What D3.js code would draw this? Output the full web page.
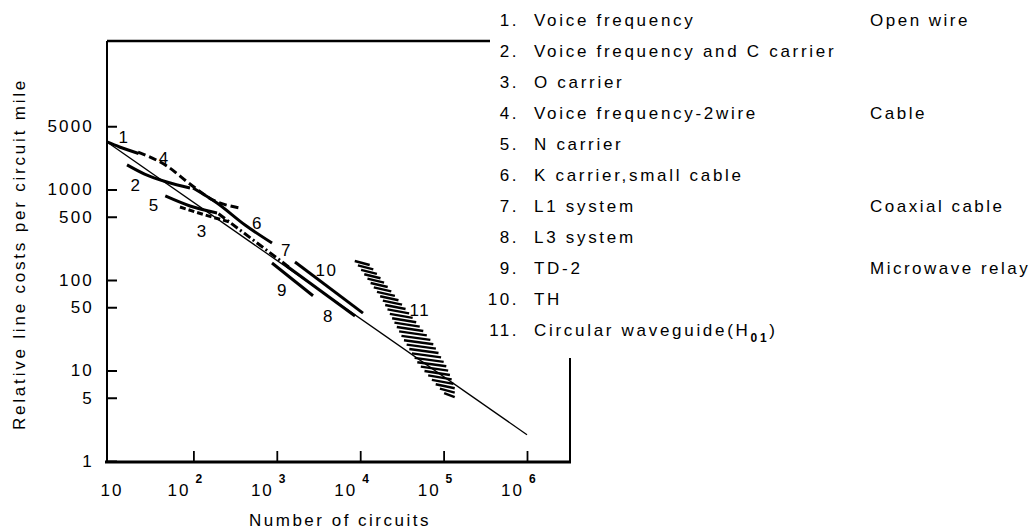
<!DOCTYPE html>
<html>
<head>
<meta charset="utf-8">
<script src="https://cdn.jsdelivr.net/npm/d3@7"></script>
<style>
  body { margin: 0; background: #fff; }
  svg { display: block; font-family: "Liberation Sans", Arial, sans-serif; }
</style>
</head>
<body>
<script>
// ---- data (N = number of circuits, C = relative cost) ----
const xTickValues = [10, 100, 1000, 10000, 100000, 1000000];
const xTickExps = ["", "2", "3", "4", "5", "6"];
const yTickValues = [1, 5, 10, 50, 100, 500, 1000, 5000];

const trendN = [9.2, 1000000];
const trendC = [3350, 1.95];

const s1N = [9.2, 13, 22];          // voice frequency, open wire
const s1C = [3350, 2950, 2500];
const s2N = [16, 26, 48, 91];       // voice frequency and C carrier
const s2C = [1870, 1480, 1210, 1040];
const s3N = [69, 138, 275];         // O carrier
const s3C = [641, 523, 437];
const s4N = [21.7, 48, 91, 172, 362];   // voice frequency 2-wire
const s4C = [2595, 1820, 1150, 765, 625];
const s5N = [46, 91, 192];          // N carrier
const s5C = [848, 657, 550];
const s6N = [99, 192, 416, 876];    // K carrier
const s6C = [1040, 709, 405, 256];
const s7N = [200, 1440];            // L1
const s7C = [540, 136];
const s8N = [1325, 8670];           // L3
const s8C = [142, 40];
const s9N = [876, 2716];            // TD-2
const s9C = [154, 67];
const s10N = [1652, 10800];         // TH
const s10C = [158, 43];

// circular waveguide band: left / right edge at each cost level
const band11C = [154, 60, 22, 11.5, 6.9, 5];
const band11Left = [8600, 18000, 32000, 49000, 78000, 109000];
const band11Right = [13000, 30000, 72000, 109000, 136000, 136000];

const markLabels = ["1", "2", "3", "4", "5", "6", "7", "8", "9", "10", "11"];
const markLabelN = [14.7, 20.5, 128, 44.6, 33.8, 585, 1303, 4170, 1167, 3945, 51800];
const markLabelC = [3800, 1122, 348, 2230, 674, 426, 214, 40, 77.6, 129, 46.6];

const legendNums = ["1.", "2.", "3.", "4.", "5.", "6.", "7.", "8.", "9.", "10.", "11."];
const legendNames = ["Voice frequency", "Voice frequency and C carrier", "O carrier",
  "Voice frequency-2wire", "N carrier", "K carrier,small cable", "L1 system",
  "L3 system", "TD-2", "TH", "Circular waveguide(H01)"];
const groupNames = ["Open wire", "Cable", "Coaxial cable", "Microwave relay"];
const groupRows = [0, 3, 6, 8];

// ---- layout ----
const W = 1030, H = 530;
const axisX = 107, frameTop = 41, frameBottom = 462, frameRight = 570, topEnd = 490;

const x = d3.scaleLog().domain([10, 1e6]).range([110, 527]);
const y = d3.scaleLog().domain([1, 1e4]).range([461, 99]);

const svg = d3.select("body").append("svg")
    .attr("width", W)
    .attr("height", H);

// frame
svg.append("line").attr("x1", axisX).attr("x2", axisX).attr("y1", frameTop).attr("y2", frameBottom)
    .attr("stroke", "#000").attr("stroke-width", 2);
svg.append("line").attr("x1", axisX).attr("x2", topEnd).attr("y1", frameTop).attr("y2", frameTop)
    .attr("stroke", "#000").attr("stroke-width", 2.5);
svg.append("line").attr("x1", axisX - 2).attr("x2", frameRight + 1).attr("y1", frameBottom).attr("y2", frameBottom)
    .attr("stroke", "#000").attr("stroke-width", 2.8);
svg.append("line").attr("x1", frameRight).attr("x2", frameRight).attr("y1", 358).attr("y2", frameBottom)
    .attr("stroke", "#000").attr("stroke-width", 2);

// y axis ticks (inward) and labels
const yAxis = svg.append("g")
    .attr("transform", `translate(${axisX},0)`)
    .call(d3.axisLeft(y).tickValues(yTickValues).tickSize(-10).tickPadding(13).tickFormat(d3.format("d")));
yAxis.select(".domain").remove();
yAxis.selectAll(".tick line").attr("stroke-width", 2);
yAxis.selectAll(".tick text")
    .attr("font-family", "Liberation Sans, Arial, sans-serif")
    .attr("font-size", 17)
    .attr("letter-spacing", 2.2)
    .attr("fill", "#000");

// x axis ticks (inward)
const xAxis = svg.append("g")
    .attr("transform", `translate(0,${frameBottom})`)
    .call(d3.axisBottom(x).tickValues(xTickValues.slice(1)).tickSize(-11).tickFormat(""));
xAxis.select(".domain").remove();
xAxis.selectAll(".tick line").attr("stroke-width", 1.8);

// x tick labels with exponents
const xl = svg.append("g").attr("fill", "#000");
xTickValues.forEach((v, i) => {
  if (xTickExps[i] === "") {
    xl.append("text").attr("x", x(v) + 2).attr("y", 496)
      .attr("text-anchor", "middle").attr("font-size", 17).attr("letter-spacing", 2)
      .text("10");
  } else {
    xl.append("text").attr("x", x(v) - 3).attr("y", 496)
      .attr("text-anchor", "end").attr("font-size", 17).attr("letter-spacing", 2)
      .text("10");
    xl.append("text").attr("x", x(v) + 2).attr("y", 483)
      .attr("font-size", 12).attr("font-weight", "bold")
      .text(xTickExps[i]);
  }
});

// axis titles
svg.append("text")
    .attr("x", 340).attr("y", 526)
    .attr("text-anchor", "middle")
    .attr("font-size", 17).attr("letter-spacing", 2.5)
    .text("Number of circuits");
svg.append("text")
    .attr("transform", "translate(25,254) rotate(-90)")
    .attr("text-anchor", "middle")
    .attr("font-size", 17).attr("letter-spacing", 2.8)
    .text("Relative line costs per circuit mile");

// lines
const line = d3.line()
    .x(d => x(d[0]))
    .y(d => y(d[1]))
    .curve(d3.curveMonotoneX);
const pts = (ns, cs) => ns.map((n, i) => [n, cs[i]]);

const plot = svg.append("g").attr("fill", "none").attr("stroke", "#000");

plot.append("path").attr("d", line(pts(trendN, trendC))).attr("stroke-width", 1.3);

const drawList = [
  { n: s1N, c: s1C, dash: null },
  { n: s2N, c: s2C, dash: null },
  { n: s3N, c: s3C, dash: "6,3" },
  { n: s4N, c: s4C, dash: "8,4" },
  { n: s5N, c: s5C, dash: null },
  { n: s6N, c: s6C, dash: null },
  { n: s7N, c: s7C, dash: "8,3,2,3" },
  { n: s8N, c: s8C, dash: null },
  { n: s9N, c: s9C, dash: null },
  { n: s10N, c: s10C, dash: null }
];
drawList.forEach(s => {
  plot.append("path")
    .attr("d", line(pts(s.n, s.c)))
    .attr("stroke-width", 3)
    .attr("stroke-dasharray", s.dash);
});

// hatched band for the circular waveguide
const bandY = band11C.map(c => y(c));
const leftAt = d3.scaleLinear().domain(bandY).range(band11Left.map(n => x(n)));
const rightAt = d3.scaleLinear().domain(bandY).range(band11Right.map(n => x(n)));
const hatch = svg.append("g").attr("stroke", "#000").attr("stroke-width", 2.4);
for (let py = bandY[0]; py <= bandY[bandY.length - 1]; py += 4.4) {
  hatch.append("line")
    .attr("x1", leftAt(py)).attr("y1", py - 2)
    .attr("x2", rightAt(py)).attr("y2", py + 2);
}

// numbers beside each curve
svg.append("g").selectAll("text")
  .data(markLabels)
  .join("text")
    .attr("x", (d, i) => x(markLabelN[i]))
    .attr("y", (d, i) => y(markLabelC[i]))
    .attr("dy", "0.36em")
    .attr("text-anchor", "middle")
    .attr("font-size", 17)
    .attr("letter-spacing", 1.5)
    .text(d => d);

// legend
const lg = svg.append("g").attr("font-size", 17).attr("fill", "#000");
legendNums.forEach((num, i) => {
  const by = 26 + 31 * i;
  lg.append("text").attr("x", 519).attr("y", by).attr("text-anchor", "end")
    .attr("letter-spacing", 2.5).text(num);
  const t = lg.append("text").attr("x", 534).attr("y", by).attr("letter-spacing", 2.7);
  const m = legendNames[i].match(/^(.*H)(01)(\))$/);
  if (m) {
    t.append("tspan").text(m[1]);
    t.append("tspan").attr("dy", 6).attr("font-size", 12).attr("font-weight", "bold").text(m[2]);
    t.append("tspan").attr("dy", -6).text(m[3]);
  } else {
    t.text(legendNames[i]);
  }
});
groupNames.forEach((g, i) => {
  lg.append("text").attr("x", 870).attr("y", 26 + 31 * groupRows[i])
    .attr("letter-spacing", 2.5).text(g);
});
</script>
</body>
</html>
